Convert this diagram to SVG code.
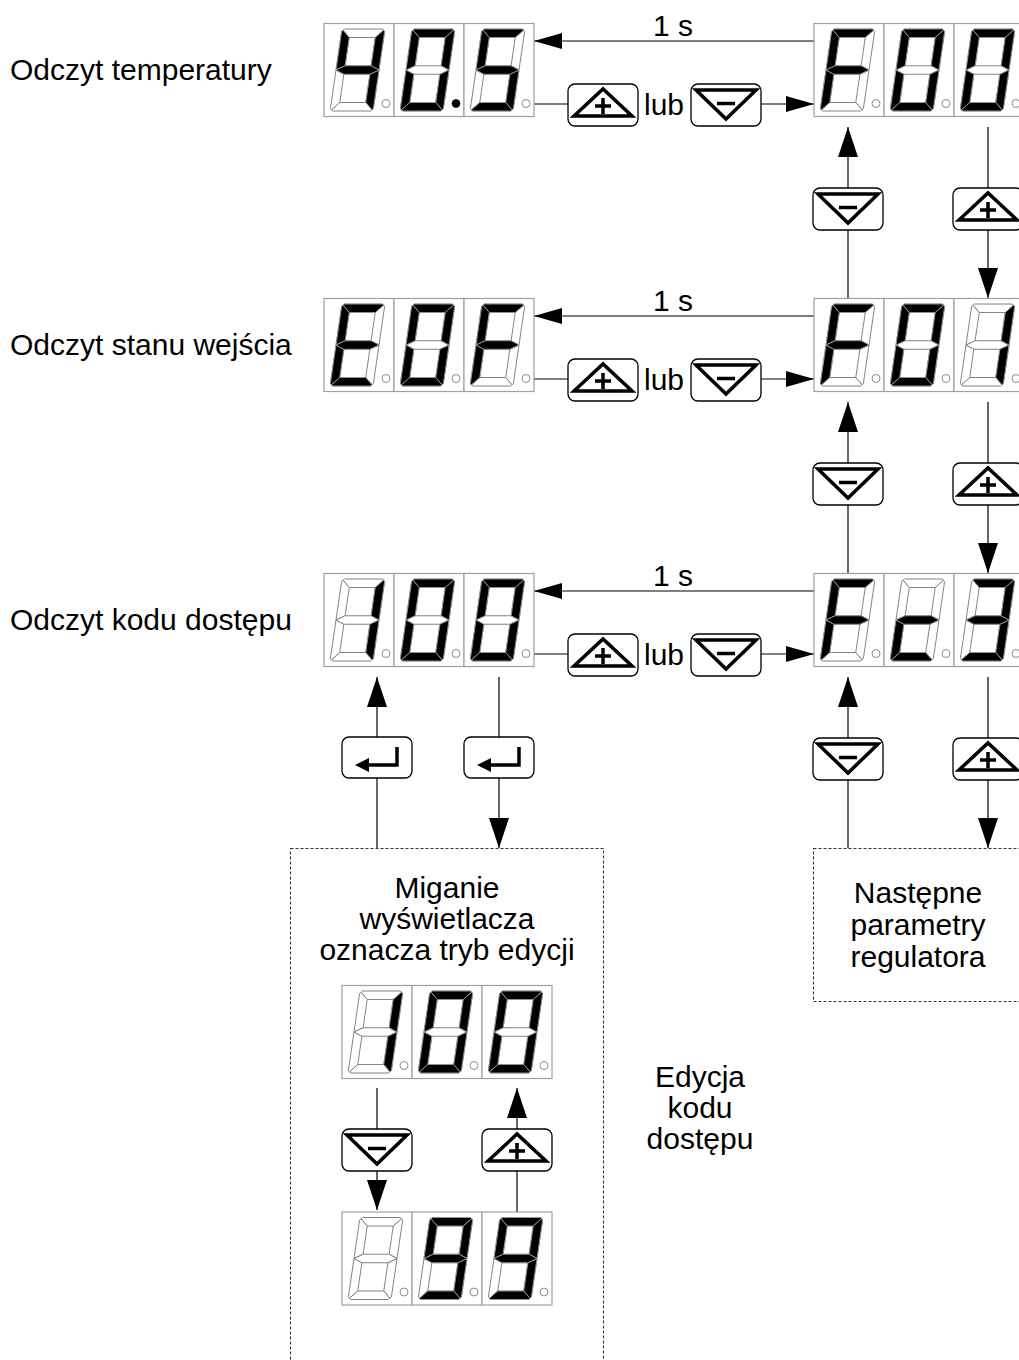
<svg xmlns="http://www.w3.org/2000/svg" xmlns:xlink="http://www.w3.org/1999/xlink" width="1019" height="1360" viewBox="0 0 1019 1360">
<style>
  text { font-family: "Liberation Sans", Arial, sans-serif; font-size: 30px; fill: #000; }
  .mid { text-anchor: middle; }
  .cb { fill: #fff; stroke: #a0a0a0; stroke-width: 1.2; }
  .off { fill: #fff; stroke: #7a7a7a; stroke-width: 0.9; }
  .on { fill: #000; stroke: #9a9a9a; stroke-width: 0.9; }
  .dot { fill: #fff; stroke: #808080; stroke-width: 0.9; }
  .btn { fill: #fff; stroke: #000; stroke-width: 1.3; }
  .sym { fill: none; stroke: #000; stroke-width: 3.5; }
  .ln { stroke: #000; stroke-width: 1.2; fill: none; }
  .dash { fill: none; stroke: #333; stroke-width: 1.1; stroke-dasharray: 3 2; }
</style>
<defs>
  <marker id="av" markerUnits="userSpaceOnUse" markerWidth="30" markerHeight="20" refX="30" refY="10" orient="auto"><path d="M0,0 L30,10 L0,20 Z" fill="#000"/></marker>
  <marker id="ah" markerUnits="userSpaceOnUse" markerWidth="28" markerHeight="16" refX="28" refY="8" orient="auto"><path d="M0,0 L28,8 L0,16 Z" fill="#000"/></marker>
  <polygon id="sa" points="-19,-41 19,-41 20.25,-39.75 13,-32.5 -13,-32.5 -20.25,-39.75"/>
  <polygon id="sb" points="20.25,-39.75 21.5,-38.5 21.5,0 13,-4.25 13,-32.5"/>
  <polygon id="sc" points="21.5,0 21.5,38.5 20.25,39.75 13,32.5 13,4.25"/>
  <polygon id="sd" points="-19,41 19,41 20.25,39.75 13,32.5 -13,32.5 -20.25,39.75"/>
  <polygon id="se" points="-21.5,0 -13,4.25 -13,32.5 -20.25,39.75 -21.5,38.5"/>
  <polygon id="sf" points="-21.5,0 -21.5,-38.5 -20.25,-39.75 -13,-32.5 -13,-4.25"/>
  <polygon id="sg" points="-21.5,0 -13,-4.25 13,-4.25 21.5,0 13,4.25 -13,4.25"/>
  <g id="cell">
    <rect class="cb" x="0" y="0" width="70" height="93"/>
    <g class="off" transform="translate(33.5,46.5) skewX(-8.3)">
      <use xlink:href="#sa"/><use xlink:href="#sb"/><use xlink:href="#sc"/><use xlink:href="#sd"/><use xlink:href="#se"/><use xlink:href="#sf"/><use xlink:href="#sg"/>
    </g>
    <circle class="dot" cx="62" cy="80" r="4"/>
  </g>
  <g id="d0" class="on" transform="skewX(-8.3)"><use xlink:href="#sa"/><use xlink:href="#sb"/><use xlink:href="#sc"/><use xlink:href="#sd"/><use xlink:href="#se"/><use xlink:href="#sf"/></g>
  <g id="d1" class="on" transform="skewX(-8.3)"><use xlink:href="#sb"/><use xlink:href="#sc"/></g>
  <g id="d3" class="on" transform="skewX(-8.3)"><use xlink:href="#sa"/><use xlink:href="#sb"/><use xlink:href="#sc"/><use xlink:href="#sd"/><use xlink:href="#sg"/></g>
  <g id="d4" class="on" transform="skewX(-8.3)"><use xlink:href="#sb"/><use xlink:href="#sc"/><use xlink:href="#sf"/><use xlink:href="#sg"/></g>
  <g id="d5" class="on" transform="skewX(-8.3)"><use xlink:href="#sa"/><use xlink:href="#sc"/><use xlink:href="#sd"/><use xlink:href="#sf"/><use xlink:href="#sg"/></g>
  <g id="d9" class="on" transform="skewX(-8.3)"><use xlink:href="#sa"/><use xlink:href="#sb"/><use xlink:href="#sc"/><use xlink:href="#sd"/><use xlink:href="#sf"/><use xlink:href="#sg"/></g>
  <g id="dE" class="on" transform="skewX(-8.3)"><use xlink:href="#sa"/><use xlink:href="#sd"/><use xlink:href="#se"/><use xlink:href="#sf"/><use xlink:href="#sg"/></g>
  <g id="dF" class="on" transform="skewX(-8.3)"><use xlink:href="#sa"/><use xlink:href="#se"/><use xlink:href="#sf"/><use xlink:href="#sg"/></g>
  <g id="dc" class="on" transform="skewX(-8.3)"><use xlink:href="#sd"/><use xlink:href="#se"/><use xlink:href="#sg"/></g>
  <g id="bplus"><rect class="btn" x="0" y="0" width="70" height="42" rx="7"/><polygon class="sym" points="6,32 35,5 64,32"/><path class="sym" d="M27,22H43M35,14V30"/></g>
  <g id="bminus"><rect class="btn" x="0" y="0" width="70" height="42" rx="7"/><polygon class="sym" points="5,6 65,6 35,35"/><path class="sym" d="M26,19.5H44"/></g>
  <g id="benter"><rect class="btn" x="0" y="0" width="70" height="41" rx="7"/><path class="sym" d="M55,10V28H26" stroke-width="4"/><polygon points="13,28 27,21 27,35" fill="#000"/></g>
</defs>
<rect x="0" y="0" width="1019" height="1360" fill="#fff"/>

<!-- labels -->
<g id="labels">
  <text x="10" y="80">Odczyt temperatury</text>
  <text x="10" y="355">Odczyt stanu wejścia</text>
  <text x="10" y="630">Odczyt kodu dostępu</text>
  <text class="mid" x="673" y="36">1 s</text>
  <text class="mid" x="673" y="311">1 s</text>
  <text class="mid" x="673" y="586">1 s</text>
  <text x="644" y="115">lub</text>
  <text x="644" y="390">lub</text>
  <text x="644" y="665">lub</text>
  <text class="mid" x="700" y="1087">Edycja</text>
  <text class="mid" x="700" y="1118">kodu</text>
  <text class="mid" x="700" y="1149">dostępu</text>
</g>

<!-- dashed areas -->
<g id="edit-area">
  <rect class="dash" x="290.5" y="848.5" width="313" height="540"/>
  <text class="mid" x="447" y="898">Miganie</text>
  <text class="mid" x="447" y="929">wyświetlacza</text>
  <text class="mid" x="447" y="960">oznacza tryb edycji</text>
</g>
<g id="next-params">
  <rect class="dash" x="813.5" y="848.5" width="230" height="153"/>
  <text class="mid" x="918" y="903">Następne</text>
  <text class="mid" x="918" y="935">parametry</text>
  <text class="mid" x="918" y="967">regulatora</text>
</g>

<!-- connectors -->
<g id="connectors" class="ln">
  <line x1="814" y1="41" x2="534" y2="41" marker-end="url(#ah)"/>
  <line x1="534" y1="104" x2="568" y2="104"/>
  <line x1="761" y1="104" x2="814" y2="104" marker-end="url(#ah)"/>
  <line x1="848" y1="298" x2="848" y2="230"/>
  <line x1="848" y1="188" x2="848" y2="127" marker-end="url(#av)"/>
  <line x1="988" y1="127" x2="988" y2="188"/>
  <line x1="988" y1="230" x2="988" y2="298" marker-end="url(#av)"/>

  <line x1="814" y1="316" x2="534" y2="316" marker-end="url(#ah)"/>
  <line x1="534" y1="379" x2="568" y2="379"/>
  <line x1="761" y1="379" x2="814" y2="379" marker-end="url(#ah)"/>
  <line x1="848" y1="573" x2="848" y2="505"/>
  <line x1="848" y1="463" x2="848" y2="402" marker-end="url(#av)"/>
  <line x1="988" y1="402" x2="988" y2="463"/>
  <line x1="988" y1="505" x2="988" y2="573" marker-end="url(#av)"/>

  <line x1="814" y1="591" x2="534" y2="591" marker-end="url(#ah)"/>
  <line x1="534" y1="654" x2="568" y2="654"/>
  <line x1="761" y1="654" x2="814" y2="654" marker-end="url(#ah)"/>
  <line x1="848" y1="848" x2="848" y2="780"/>
  <line x1="848" y1="738" x2="848" y2="677" marker-end="url(#av)"/>
  <line x1="988" y1="677" x2="988" y2="738"/>
  <line x1="988" y1="780" x2="988" y2="848" marker-end="url(#av)"/>

  <line x1="377" y1="848" x2="377" y2="778"/>
  <line x1="377" y1="737" x2="377" y2="677" marker-end="url(#av)"/>
  <line x1="499" y1="677" x2="499" y2="737"/>
  <line x1="499" y1="778" x2="499" y2="848" marker-end="url(#av)"/>

  <line x1="377" y1="1088" x2="377" y2="1129"/>
  <line x1="377" y1="1171" x2="377" y2="1210" marker-end="url(#av)"/>
  <line x1="517" y1="1212" x2="517" y2="1171"/>
  <line x1="517" y1="1129" x2="517" y2="1088" marker-end="url(#av)"/>
</g>

<!-- buttons -->
<g id="btn-r1-plus"><use xlink:href="#bplus" x="568" y="84"/></g>
<g id="btn-r1-minus"><use xlink:href="#bminus" x="691" y="84"/></g>
<g id="btn-r2-plus"><use xlink:href="#bplus" x="568" y="359"/></g>
<g id="btn-r2-minus"><use xlink:href="#bminus" x="691" y="359"/></g>
<g id="btn-r3-plus"><use xlink:href="#bplus" x="568" y="634"/></g>
<g id="btn-r3-minus"><use xlink:href="#bminus" x="691" y="634"/></g>
<g id="btn-v1-minus"><use xlink:href="#bminus" x="813" y="188"/></g>
<g id="btn-v1-plus"><use xlink:href="#bplus" x="953" y="188"/></g>
<g id="btn-v2-minus"><use xlink:href="#bminus" x="813" y="463"/></g>
<g id="btn-v2-plus"><use xlink:href="#bplus" x="953" y="463"/></g>
<g id="btn-v3-minus"><use xlink:href="#bminus" x="813" y="738"/></g>
<g id="btn-v3-plus"><use xlink:href="#bplus" x="953" y="738"/></g>
<g id="btn-enter-l"><use xlink:href="#benter" x="342" y="737"/></g>
<g id="btn-enter-r"><use xlink:href="#benter" x="464" y="737"/></g>
<g id="btn-edit-minus"><use xlink:href="#bminus" x="342" y="1129"/></g>
<g id="btn-edit-plus"><use xlink:href="#bplus" x="482" y="1129"/></g>

<!-- displays -->
<g id="disp-40-5">
  <use xlink:href="#cell" x="324" y="23.5"/><use xlink:href="#cell" x="394" y="23.5"/><use xlink:href="#cell" x="464" y="23.5"/>
  <use xlink:href="#d4" x="357.5" y="70"/><use xlink:href="#d0" x="427.5" y="70"/><use xlink:href="#d5" x="497.5" y="70"/>
  <circle cx="456" cy="103.5" r="4.2" fill="#000"/>
</g>
<g id="disp-F00">
  <use xlink:href="#cell" x="814" y="23.5"/><use xlink:href="#cell" x="884" y="23.5"/><use xlink:href="#cell" x="954" y="23.5"/>
  <use xlink:href="#dF" x="847.5" y="70"/><use xlink:href="#d0" x="917.5" y="70"/><use xlink:href="#d0" x="987.5" y="70"/>
</g>
<g id="disp-E0F">
  <use xlink:href="#cell" x="324" y="298.5"/><use xlink:href="#cell" x="394" y="298.5"/><use xlink:href="#cell" x="464" y="298.5"/>
  <use xlink:href="#dE" x="357.5" y="345"/><use xlink:href="#d0" x="427.5" y="345"/><use xlink:href="#dF" x="497.5" y="345"/>
</g>
<g id="disp-F01">
  <use xlink:href="#cell" x="814" y="298.5"/><use xlink:href="#cell" x="884" y="298.5"/><use xlink:href="#cell" x="954" y="298.5"/>
  <use xlink:href="#dF" x="847.5" y="345"/><use xlink:href="#d0" x="917.5" y="345"/><use xlink:href="#d1" x="987.5" y="345"/>
</g>
<g id="disp-100">
  <use xlink:href="#cell" x="324" y="573.5"/><use xlink:href="#cell" x="394" y="573.5"/><use xlink:href="#cell" x="464" y="573.5"/>
  <use xlink:href="#d1" x="357.5" y="620"/><use xlink:href="#d0" x="427.5" y="620"/><use xlink:href="#d0" x="497.5" y="620"/>
</g>
<g id="disp-Fc3">
  <use xlink:href="#cell" x="814" y="573.5"/><use xlink:href="#cell" x="884" y="573.5"/><use xlink:href="#cell" x="954" y="573.5"/>
  <use xlink:href="#dF" x="847.5" y="620"/><use xlink:href="#dc" x="917.5" y="620"/><use xlink:href="#d3" x="987.5" y="620"/>
</g>
<g id="disp-edit-100">
  <use xlink:href="#cell" x="342" y="985.5"/><use xlink:href="#cell" x="412" y="985.5"/><use xlink:href="#cell" x="482" y="985.5"/>
  <use xlink:href="#d1" x="375.5" y="1032"/><use xlink:href="#d0" x="445.5" y="1032"/><use xlink:href="#d0" x="515.5" y="1032"/>
</g>
<g id="disp-edit-99">
  <use xlink:href="#cell" x="342" y="1212"/><use xlink:href="#cell" x="412" y="1212"/><use xlink:href="#cell" x="482" y="1212"/>
  <use xlink:href="#d9" x="445.5" y="1258.5"/><use xlink:href="#d9" x="515.5" y="1258.5"/>
</g>
</svg>
